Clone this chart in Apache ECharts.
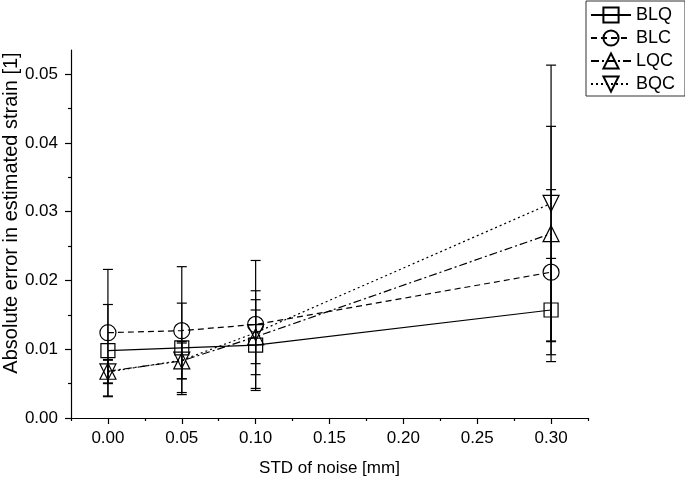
<!DOCTYPE html>
<html>
<head>
<meta charset="utf-8">
<script src="https://cdn.jsdelivr.net/npm/echarts@6/dist/echarts.min.js"></script>
<style>html,body{margin:0;padding:0;background:#fff;}#c{width:685px;height:481px;}</style>
</head>
<body>
<div id="c"></div>
<script>
const xValues = [0.00, 0.05, 0.10, 0.30];
const seriesNames = ['BLQ', 'BLC', 'LQC', 'BQC'];
const blq = [0.0098, 0.0102, 0.0106, 0.0157];
const blqErr = [0.0067, 0.0065, 0.0066, 0.0075];
const blc = [0.0124, 0.0127, 0.0136, 0.0212];
const blcErr = [0.0092, 0.0093, 0.0093, 0.0120];
const lqc = [0.0068, 0.0083, 0.0118, 0.0268];
const lqcErr = [0.0017, 0.0026, 0.0039, 0.0156];
const bqc = [0.0067, 0.0084, 0.0124, 0.0312];
const bqcErr = [0.0017, 0.0027, 0.0061, 0.0201];
const xTickLabels = [0.00, 0.05, 0.10, 0.15, 0.20, 0.25, 0.30];
const xMinorTicks = [-0.025, 0.025, 0.075, 0.125, 0.175, 0.225, 0.275, 0.325];
const yTickLabels = [0.00, 0.01, 0.02, 0.03, 0.04, 0.05];
const yMinorTicks = [0.005, 0.015, 0.025, 0.035, 0.045];

const FONT = 'Liberation Sans, Arial, sans-serif';
const values = [blq, blc, lqc, bqc];
const errs = [blqErr, blcErr, lqcErr, bqcErr];
const styles = [
  {symbol: 'rect', size: 14, rotate: 0, line: 'solid'},
  {symbol: 'circle', size: 16, rotate: 0, line: [6, 4]},
  {symbol: 'triangle', size: 16, rotate: 0, line: [8, 3, 2, 3]},
  {symbol: 'triangle', size: 16, rotate: 180, line: [2, 3]}
];

function errRender(params, api) {
  const x = api.value(0);
  const lo = api.coord([x, api.value(1)]);
  const hi = api.coord([x, api.value(2)]);
  const w = 5;
  const st = {stroke: '#000', lineWidth: 1.2};
  return {type: 'group', children: [
    {type: 'line', shape: {x1: lo[0], y1: lo[1], x2: hi[0], y2: hi[1]}, style: st},
    {type: 'line', shape: {x1: lo[0] - w, y1: lo[1], x2: lo[0] + w, y2: lo[1]}, style: st},
    {type: 'line', shape: {x1: hi[0] - w, y1: hi[1], x2: hi[0] + w, y2: hi[1]}, style: st}
  ]};
}

const series = [];
seriesNames.forEach((name, k) => {
  series.push({
    type: 'custom', name: name + ' err', renderItem: errRender, z: 1,
    data: xValues.map((x, i) => [x, values[k][i] - errs[k][i], values[k][i] + errs[k][i]]),
    silent: true
  });
});
seriesNames.forEach((name, k) => {
  const s = styles[k];
  series.push({
    type: 'line', name: name, z: 3,
    data: xValues.map((x, i) => [x, values[k][i]]),
    symbol: s.symbol, symbolSize: s.size, symbolRotate: s.rotate,
    showSymbol: true, animation: false,
    lineStyle: {color: '#000', width: 1.2, type: s.line},
    itemStyle: {color: 'rgba(255,255,255,0)', borderColor: '#000', borderWidth: 1.2}
  });
});

const chart = echarts.init(document.getElementById('c'), null, {renderer: 'canvas'});
chart.setOption({
  animation: false,
  backgroundColor: '#fff',
  grid: {left: 71, right: 97, top: 50, bottom: 63, containLabel: false, outerBoundsMode: 'none'},
  legend: {
    data: seriesNames, orient: 'vertical', left: 586, top: 1,
    borderColor: '#333', borderWidth: 1, padding: [5, 10, 3, 4],
    itemWidth: 40, itemHeight: 19, itemGap: 5,
    textStyle: {fontFamily: FONT, fontSize: 18, color: '#000'}
  },
  xAxis: [{
    type: 'value', min: -0.025, max: 0.325,
    name: 'STD of noise [mm]', nameLocation: 'middle', nameGap: 42, nameMoveOverlap: false,
    nameTextStyle: {fontFamily: FONT, fontSize: 17, color: '#000'},
    axisLine: {onZero: false, lineStyle: {color: '#000', width: 1.2}},
    axisTick: {show: true, length: 6, lineStyle: {color: '#000', width: 1.2}, customValues: xTickLabels},
    axisLabel: {fontFamily: FONT, fontSize: 17, color: '#000', margin: 12, customValues: xTickLabels, formatter: v => v.toFixed(2)},
    splitLine: {show: false}
  }, {
    type: 'value', min: -0.025, max: 0.325, position: 'bottom', offset: 0,
    axisLine: {show: false, onZero: false},
    axisTick: {show: true, length: 3, lineStyle: {color: '#000', width: 1.2}, customValues: xMinorTicks},
    axisLabel: {show: false}, splitLine: {show: false}
  }],
  yAxis: [{
    type: 'value', min: 0, max: 0.0535,
    name: 'Absolute error in estimated strain [1]', nameLocation: 'middle', nameGap: 50, nameMoveOverlap: false,
    nameTextStyle: {fontFamily: FONT, fontSize: 20, color: '#000', padding: [0, 0, 0, 42]},
    axisLine: {onZero: false, lineStyle: {color: '#000', width: 1.2}},
    axisTick: {show: true, length: 6, lineStyle: {color: '#000', width: 1.2}, customValues: yTickLabels},
    axisLabel: {fontFamily: FONT, fontSize: 17, color: '#000', margin: 13, customValues: yTickLabels, formatter: v => v.toFixed(2)},
    splitLine: {show: false}
  }, {
    type: 'value', min: 0, max: 0.0535, position: 'left', offset: 0,
    axisLine: {show: false, onZero: false},
    axisTick: {show: true, length: 3, lineStyle: {color: '#000', width: 1.2}, customValues: yMinorTicks},
    axisLabel: {show: false}, splitLine: {show: false}
  }],
  series: series
});
</script>
</body>
</html>
